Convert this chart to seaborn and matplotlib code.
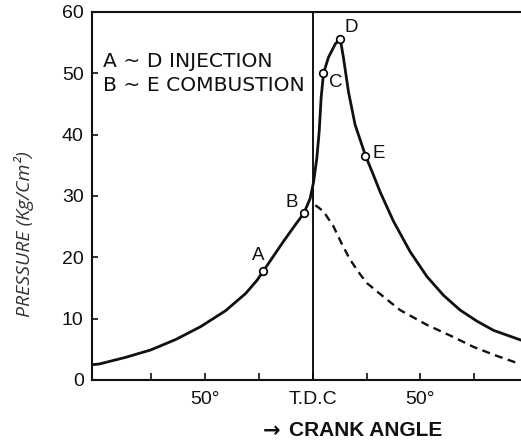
import matplotlib
matplotlib.use("Agg")
import matplotlib.pyplot as plt
import seaborn as sns
import pandas as pd

# ---- data ----
crank_deg = [-102.6, -99.3, -86.9, -75.3, -63.7, -52.1, -40.5, -31.2, -25.8, -23.1,
             -13.6, -8.1, -4.1, -1.2, 0.4, 1.9, 3.0, 3.9, 5.0, 7.3, 10.5, 12.8,
             14.3, 16.6, 19.7, 24.5, 28.0, 31.4, 37.5, 45.3, 53.0, 60.8, 68.5,
             76.3, 84.0, 96.8]
pressure = [2.5, 2.6, 3.7, 4.9, 6.6, 8.7, 11.3, 14.1, 16.3, 17.7,
            22.6, 25.3, 27.2, 29.6, 32.3, 36.2, 40.5, 46.0, 50.0, 52.6, 54.8, 55.6,
            52.5, 47.0, 41.6, 36.6, 33.6, 30.6, 25.9, 20.9, 16.9, 13.8, 11.4,
            9.6, 8.1, 6.5]

motor_deg = [1.2, 5.0, 9.7, 13.5, 17.4, 22.1, 25.2, 31.4, 40.6, 53.0, 65.4, 74.7, 85.0, 94.8]
motor_p = [28.5, 27.5, 25.0, 22.2, 19.6, 17.2, 15.8, 14.0, 11.4, 9.0, 7.0, 5.4, 4.0, 2.8]

pt_labels = ["A", "B", "C", "D", "E"]
pt_deg = [-23.1, -4.1, 5.0, 12.8, 24.5]
pt_p = [17.7, 27.2, 50.0, 55.6, 36.6]

x_ticks = [-75, -50, -25, 0, 25, 50, 75]
x_ticklabels = ["", "50°", "", "T.D.C", "", "50°", ""]
y_ticks = [0, 10, 20, 30, 40, 50, 60]

legend_lines = ["A ~ D INJECTION", "B ~ E COMBUSTION"]

# ---- figure ----
sns.set_theme(style="ticks")
plt.rcParams["font.family"] = ["Liberation Sans", "DejaVu Sans"]

W, H = 521, 443
fig = plt.figure(figsize=(W / 100, H / 100), dpi=100)
fig.patch.set_facecolor("white")
ax = fig.add_axes([92 / W, 1 - 380 / H, 1 - 92 / W, (380 - 12) / H])
ax.set_facecolor("white")

df_main = pd.DataFrame({"deg": crank_deg, "p": pressure})
df_mot = pd.DataFrame({"deg": motor_deg, "p": motor_p})
df_pts = pd.DataFrame({"deg": pt_deg, "p": pt_p, "lab": pt_labels})

ax.axvline(0, color="black", lw=1.3, zorder=1)
sns.lineplot(data=df_main, x="deg", y="p", ax=ax, color="#111111", lw=2.0,
             sort=False, estimator=None, zorder=3)
sns.lineplot(data=df_mot, x="deg", y="p", ax=ax, color="#111111", lw=1.7,
             sort=False, estimator=None, zorder=2)
ax.lines[-1].set_dashes([3.4, 2.3])
for ln in ax.lines:
    ln.set_solid_joinstyle("round")
    ln.set_solid_capstyle("round")
sns.scatterplot(data=df_pts, x="deg", y="p", ax=ax, s=30, facecolor="white",
                edgecolor="black", linewidth=1.2, zorder=5)

offsets = {"A": (-5, 16), "B": (-12, 11), "C": (12, -9), "D": (11, 11), "E": (13, 2)}
for lab, x, y in zip(pt_labels, pt_deg, pt_p):
    ax.annotate(lab, (x, y), xytext=offsets[lab], textcoords="offset pixels",
                ha="center", va="center", fontsize=13.5, color="#111111")

ax.set_xlim(-102.6, 96.8)
ax.set_ylim(0, 60)
ax.set_xticks(x_ticks)
ax.set_xticklabels(x_ticklabels)
ax.set_yticks(y_ticks)
ax.tick_params(axis="x", direction="in", length=5, width=1.2, pad=8,
               labelsize=14, colors="#111111")
ax.tick_params(axis="y", direction="in", length=4, width=1.2, pad=6,
               labelsize=14, colors="#111111")
for s in ["left", "bottom", "top"]:
    ax.spines[s].set_color("#111111")
    ax.spines[s].set_linewidth(1.5)
ax.spines["right"].set_visible(False)
ax.set_xlabel("")
ax.set_ylabel("")

fig.text(103 / W, 1 - 67 / H, legend_lines[0], fontsize=14.6, color="#111111",
         va="baseline", ha="left", family=["DejaVu Sans"])
fig.text(103 / W, 1 - 91 / H, legend_lines[1], fontsize=14.6, color="#111111",
         va="baseline", ha="left", family=["DejaVu Sans"])

fig.text(24 / W, 1 - 234 / H, "PRESSURE (Kg/Cm²)", rotation=90, fontsize=14,
         style="italic", color="#333333", ha="center", va="center",
         family=["Open Sans", "DejaVu Sans"])

fig.text(263 / W, 1 - 431 / H, "→", fontsize=15, fontweight="bold",
         color="#111111", ha="left", va="center", family=["DejaVu Sans"])
fig.text(289 / W, 1 - 431 / H, "CRANK ANGLE", fontsize=15, fontweight="bold",
         color="#111111", ha="left", va="center",
         family=["Liberation Sans", "DejaVu Sans"])

fig.savefig("out.png", dpi=100, facecolor="white")
